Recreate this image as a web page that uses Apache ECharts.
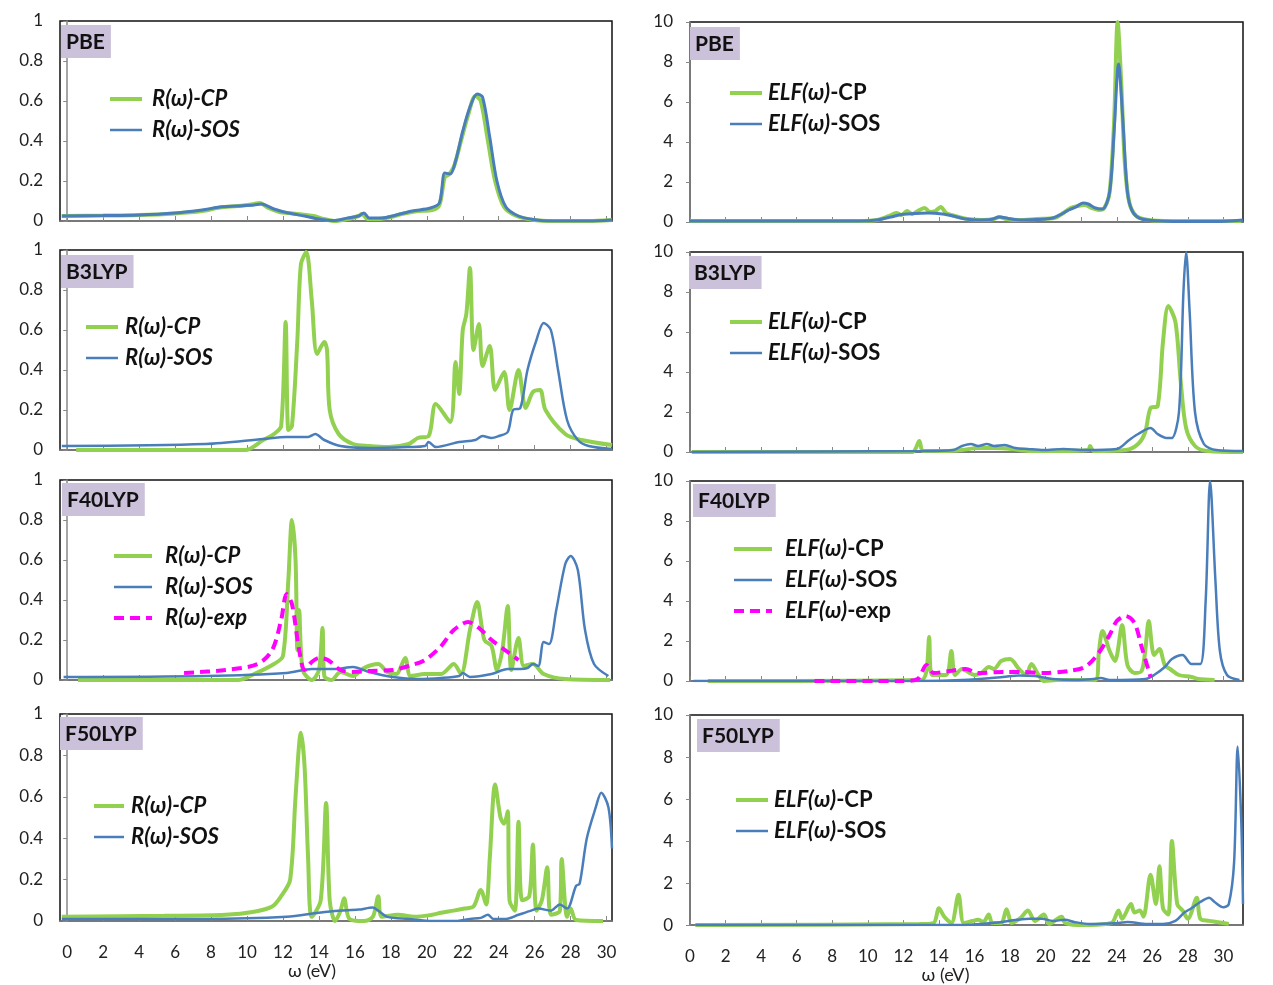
<!DOCTYPE html>
<html>
<head>
<meta charset="UTF-8">
<title>R(ω) and ELF(ω) spectra</title>
<script src="https://cdn.jsdelivr.net/npm/echarts@6/dist/echarts.min.js"></script>
<style>
  html, body { margin: 0; padding: 0; background: #fff; }
  #chart { width: 1273px; height: 985px; }
</style>
</head>
<body>
<div id="chart"></div>
<script>
// ---- data: [omega (eV), value] ----
// reflectivity R(w), left column
const pbeR_cp = [[-0.3,0.025],[2,0.027],[4,0.03],[6,0.038],[7.5,0.05],[8.5,0.068],[9.5,0.075],[10.4,0.085],[10.7,0.09],[11.2,0.065],[11.8,0.045],[12.3,0.04],[12.8,0.035],[13.3,0.03],[13.7,0.025],[14.3,0.01],[14.9,0.0],[15.6,0.01],[16.2,0.025],[16.4,0.035],[16.7,0.01],[17.3,0.01],[18,0.02],[18.6,0.035],[19.5,0.05],[20.3,0.055],[20.7,0.08],[21.0,0.22],[21.2,0.23],[21.5,0.27],[21.9,0.4],[22.3,0.53],[22.7,0.625],[23.0,0.6],[23.4,0.4],[23.8,0.2],[24.3,0.07],[25,0.025],[26,0.005],[27,0],[29,0],[30.3,0.005]];
const pbeR_sos = [[-0.3,0.025],[2,0.027],[4,0.03],[6,0.04],[7.5,0.055],[8.5,0.07],[9.5,0.075],[10.4,0.08],[10.8,0.085],[11.5,0.06],[12.3,0.04],[13.2,0.025],[14,0.01],[14.8,0.002],[15.6,0.015],[16.2,0.025],[16.5,0.04],[16.8,0.015],[17.5,0.015],[18.3,0.03],[19.2,0.05],[20.2,0.065],[20.7,0.09],[21.0,0.24],[21.3,0.235],[21.6,0.3],[22.0,0.45],[22.4,0.57],[22.8,0.635],[23.1,0.62],[23.5,0.42],[23.9,0.2],[24.4,0.07],[25.1,0.025],[26,0.006],[27,0.0],[29,0],[30.3,0.005]];

const b3R_cp = [[0.5,0],[5,0],[9.9,0],[10.9,0.05],[11.5,0.08],[11.9,0.12],[12.15,0.64],[12.3,0.1],[12.5,0.12],[12.8,0.55],[13.0,0.93],[13.3,0.99],[13.6,0.75],[13.9,0.48],[14.3,0.54],[14.45,0.5],[14.6,0.2],[15.1,0.08],[15.9,0.03],[16.8,0.02],[17.9,0.015],[19.0,0.03],[19.5,0.06],[20.1,0.07],[20.5,0.23],[21.3,0.14],[21.6,0.44],[21.8,0.28],[22.0,0.6],[22.2,0.68],[22.4,0.91],[22.6,0.5],[22.9,0.63],[23.1,0.42],[23.5,0.52],[23.8,0.3],[24.3,0.39],[24.6,0.2],[25.1,0.4],[25.5,0.21],[25.9,0.29],[26.3,0.3],[26.6,0.2],[27.7,0.08],[28.6,0.05],[30.3,0.025]];
const b3R_sos = [[-0.3,0.02],[7.7,0.03],[10.9,0.055],[12.2,0.065],[13.4,0.065],[13.8,0.08],[14.3,0.05],[15.2,0.02],[16.8,0.01],[19.0,0.015],[19.9,0.02],[20.1,0.04],[20.5,0.015],[21.8,0.04],[22.7,0.05],[23.1,0.07],[23.6,0.06],[24.0,0.07],[24.5,0.09],[24.8,0.2],[25.2,0.21],[25.6,0.4],[26.1,0.55],[26.5,0.635],[26.9,0.6],[27.3,0.4],[27.8,0.15],[28.4,0.05],[29.0,0.02],[30.3,0.005]];

const f40R_cp = [[0.6,0],[5,0],[9.5,0],[10.4,0.03],[11.5,0.08],[12.0,0.12],[12.3,0.5],[12.5,0.8],[12.7,0.6],[12.8,0.15],[12.9,0.35],[13.1,0.05],[13.6,0],[14.0,0.05],[14.2,0.26],[14.3,0.02],[14.7,0],[15.2,0.04],[15.9,0.02],[16.5,0.06],[17.3,0.08],[17.8,0.04],[18.3,0.03],[18.8,0.11],[19.1,0.02],[19.9,0.03],[20.8,0.03],[21.5,0.08],[21.9,0.03],[22.4,0.25],[22.8,0.39],[23.2,0.2],[23.6,0.17],[23.9,0.05],[24.2,0.15],[24.5,0.37],[24.7,0.05],[25.1,0.21],[25.4,0.07],[25.9,0.08],[26.5,0.03],[27.7,0.005],[30.2,0]];
const f40R_sos = [[-0.2,0.015],[7.7,0.02],[12.2,0.035],[13.6,0.055],[14.9,0.055],[15.9,0.065],[16.8,0.04],[18.1,0.015],[19.5,0.005],[20.8,0.01],[21.8,0.02],[22.0,0.035],[22.4,0.015],[23.6,0.03],[24.5,0.055],[25.2,0.055],[25.6,0.06],[25.9,0.08],[26.2,0.07],[26.5,0.19],[26.8,0.18],[27.2,0.35],[27.7,0.58],[28.0,0.62],[28.4,0.55],[28.8,0.25],[29.3,0.08],[30.1,0.02]];
const f40R_exp = [[6.5,0.035],[8.8,0.05],[10.6,0.08],[11.4,0.15],[11.9,0.3],[12.2,0.43],[12.5,0.38],[12.9,0.15],[13.2,0.05],[13.6,0.09],[14.0,0.11],[14.5,0.1],[15.2,0.05],[15.9,0.04],[16.8,0.045],[18.1,0.05],[19.0,0.07],[19.9,0.1],[20.8,0.17],[21.5,0.25],[22.3,0.29],[22.9,0.26],[23.6,0.2],[24.5,0.14],[25.1,0.1]];

const f50R_cp = [[-0.3,0.02],[5.4,0.025],[8.8,0.03],[10.4,0.045],[11.4,0.07],[11.9,0.12],[12.4,0.2],[12.7,0.6],[13.0,0.91],[13.2,0.75],[13.4,0.3],[13.6,0.02],[14.1,0.1],[14.4,0.57],[14.6,0.1],[14.9,0],[15.2,0.05],[15.4,0.11],[15.7,0.01],[16.5,0],[17.0,0.02],[17.3,0.12],[17.5,0.02],[18.4,0.03],[19.3,0.02],[20.3,0.03],[20.8,0.04],[21.5,0.05],[22.1,0.06],[22.6,0.07],[23.0,0.15],[23.3,0.08],[23.5,0.3],[23.8,0.66],[24.1,0.5],[24.3,0.47],[24.5,0.53],[24.6,0.1],[24.9,0.05],[25.1,0.48],[25.3,0.1],[25.7,0.12],[25.9,0.37],[26.1,0.05],[26.4,0.1],[26.7,0.26],[26.9,0.03],[27.4,0.05],[27.5,0.3],[27.8,0.02],[28.0,0.06],[28.3,0.005],[29.8,0]];
const f50R_sos = [[-0.3,0.01],[7.6,0.01],[12.2,0.02],[14.0,0.04],[15.1,0.05],[16.2,0.055],[17.0,0.065],[17.3,0.05],[17.8,0.02],[19.0,0.01],[20.3,0],[21.7,0],[22.4,0.01],[23.0,0.015],[23.4,0.03],[23.7,0.01],[24.4,0.01],[25.1,0.03],[25.8,0.05],[26.2,0.06],[26.9,0.05],[27.4,0.08],[27.8,0.06],[28.3,0.17],[28.5,0.18],[28.9,0.4],[29.4,0.55],[29.7,0.62],[30.1,0.55],[30.3,0.35]];

// energy loss function ELF(w), right column
const pbeE_cp = [[0,0.05],[5,0.05],[9.5,0.05],[10.5,0.1],[11.2,0.3],[11.6,0.45],[11.9,0.35],[12.2,0.55],[12.5,0.4],[12.9,0.6],[13.2,0.7],[13.5,0.5],[13.8,0.55],[14.1,0.75],[14.4,0.45],[14.7,0.35],[15.1,0.25],[15.6,0.15],[16.5,0.1],[17.1,0.15],[17.4,0.25],[17.8,0.15],[18.5,0.1],[19.5,0.15],[20.5,0.2],[21,0.45],[21.4,0.7],[21.8,0.8],[22.2,0.85],[22.6,0.7],[23.0,0.6],[23.3,0.7],[23.6,1.5],[23.85,5],[24.05,10],[24.25,7],[24.45,3],[24.7,1],[25.1,0.3],[25.8,0.1],[27,0.05],[31,0.05]];
const pbeE_sos = [[0,0.05],[5,0.05],[9.5,0.05],[10.5,0.1],[11.3,0.25],[11.9,0.38],[12.6,0.42],[13.4,0.45],[14.2,0.4],[14.8,0.3],[15.5,0.15],[16.3,0.1],[16.9,0.12],[17.4,0.25],[17.9,0.18],[18.6,0.1],[19.5,0.12],[20.4,0.2],[20.9,0.4],[21.3,0.6],[21.7,0.75],[22.1,0.95],[22.4,0.9],[22.8,0.7],[23.2,0.65],[23.6,1.5],[23.85,4.5],[24.1,7.9],[24.35,5],[24.6,1.5],[24.9,0.5],[25.4,0.15],[26.5,0.05],[28,0.02],[29.5,0.02],[31.1,0.1]];

const b3E_cp = [[0.1,0],[12.5,0],[12.9,0.55],[13.1,0.05],[14.4,0.05],[15.3,0.1],[16.2,0.2],[17.1,0.2],[18.1,0.15],[19.0,0.05],[20.8,0.05],[22.4,0.1],[22.5,0.3],[22.7,0.05],[24.5,0.1],[25.2,0.4],[25.6,1.0],[25.9,2.2],[26.3,2.3],[26.6,5.5],[26.9,7.3],[27.3,6.5],[27.6,3.5],[27.9,1.2],[28.4,0.3],[29.1,0.05],[31.1,0]];
const b3E_sos = [[0.1,0],[13.0,0.05],[14.8,0.1],[15.3,0.3],[15.8,0.4],[16.2,0.3],[16.7,0.4],[17.1,0.3],[17.7,0.35],[18.3,0.2],[19.0,0.15],[19.9,0.1],[21.0,0.15],[22.2,0.1],[24.0,0.15],[24.7,0.6],[25.2,0.9],[25.9,1.2],[26.3,0.9],[26.8,0.7],[27.1,0.7],[27.5,2],[27.75,8],[27.9,10],[28.1,7],[28.4,2],[28.9,0.4],[29.6,0.1],[31.1,0.05]];

const f40E_cp = [[1.0,0],[13.0,0.05],[13.3,0.5],[13.45,2.2],[13.6,0.3],[14.4,0.3],[14.7,1.5],[14.9,0.3],[15.3,0.6],[16.0,0.3],[16.4,0.4],[16.8,0.7],[17.1,0.6],[17.5,1.0],[18.0,1.1],[18.5,0.6],[18.9,0.3],[19.2,0.85],[19.6,0.3],[19.9,0],[20.6,0.05],[21.7,0.05],[22.8,0.05],[23.0,1.5],[23.2,2.5],[23.6,1.5],[23.9,1.0],[24.3,2.8],[24.6,0.8],[25.0,0.4],[25.4,0.5],[25.6,1.5],[25.8,3.0],[26.1,1.3],[26.4,1.6],[26.7,0.8],[27.0,0.6],[27.5,0.3],[28.2,0.2],[28.6,0.1],[29.5,0.05]];
const f40E_sos = [[0.2,0],[13.0,0],[15.3,0.05],[17.6,0.2],[18.5,0.28],[19.4,0.25],[20.4,0.1],[21.7,0.05],[22.7,0.1],[23.1,0.15],[23.6,0.05],[25.6,0.1],[26.1,0.3],[26.7,0.7],[27.1,1.1],[27.7,1.3],[28.2,0.85],[28.7,0.85],[29.0,4],[29.25,10],[29.55,5],[29.8,1.5],[30.2,0.3],[30.9,0.05]];
const f40E_exp = [[7.0,0],[11.9,0],[12.8,0.1],[13.3,0.8],[13.7,0.4],[14.6,0.5],[15.5,0.6],[16.2,0.4],[17.6,0.45],[18.7,0.45],[19.9,0.4],[21.3,0.5],[22.2,0.7],[22.9,1.3],[23.6,2.3],[24.0,3.0],[24.5,3.25],[25.0,2.9],[25.4,1.7],[25.8,0.5],[25.9,0.2]];

const f50E_cp = [[0.3,0],[12.9,0.05],[13.7,0.1],[14.0,0.8],[14.3,0.4],[14.7,0.1],[15.1,1.45],[15.4,0.1],[15.9,0.2],[16.2,0.25],[16.5,0.15],[16.8,0.5],[17.0,0.1],[17.5,0.1],[17.8,0.75],[18.1,0.1],[18.6,0.35],[19.0,0.7],[19.4,0.2],[19.9,0.5],[20.2,0.05],[20.9,0.4],[21.1,0.1],[22.0,0],[23.7,0.1],[24.1,0.7],[24.3,0.3],[24.8,1.0],[25.0,0.6],[25.3,0.7],[25.5,0.4],[25.9,2.4],[26.2,1.0],[26.4,2.8],[26.6,0.8],[26.9,0.5],[27.1,4.0],[27.4,1.0],[27.7,0.7],[28.0,0.3],[28.5,1.3],[28.7,0.3],[29.2,0.2],[29.6,0.15],[30.3,0.05]];
const f50E_sos = [[0.3,0],[15.2,0],[17.0,0.1],[18.4,0.25],[19.1,0.3],[19.8,0.3],[20.4,0.2],[21.1,0.25],[21.6,0.15],[22.5,0.05],[24.1,0.1],[24.6,0.15],[25.7,0.05],[26.6,0.05],[27.3,0.2],[27.8,0.6],[28.2,0.8],[28.7,1.1],[29.2,1.3],[29.5,1.1],[30.0,0.85],[30.3,1.0],[30.6,3],[30.8,8.5],[31.0,5],[31.1,1.0]];

const panelNames = ['PBE', 'B3LYP', 'F40LYP', 'F50LYP'];
const xTicks = [0, 2, 4, 6, 8, 10, 12, 14, 16, 18, 20, 22, 24, 26, 28, 30];

const FONT = 'Lato, "Open Sans", sans-serif';
const GREEN = '#92d050', BLUE = '#4a7ebb', MAGENTA = '#ff00ff';
const STYLE = {
  cp:  { color: GREEN, width: 4, type: 'solid' },
  sos: { color: BLUE, width: 2.5, type: 'solid' },
  exp: { color: MAGENTA, width: 4, type: [10, 6] }
};

// plot boxes (px)
const boxes = [
  { left: 60, top: 21, width: 552, height: 200 },
  { left: 60, top: 250, width: 552, height: 200 },
  { left: 60, top: 480, width: 552, height: 200 },
  { left: 60, top: 714, width: 552, height: 207 },
  { left: 690, top: 22, width: 553, height: 200 },
  { left: 690, top: 252, width: 553, height: 200 },
  { left: 690, top: 481, width: 553, height: 200 },
  { left: 690, top: 715, width: 553, height: 211 }
];

const chart = echarts.init(document.getElementById('chart'));

const grid = boxes.map(b => Object.assign({
  show: true, borderColor: '#111', borderWidth: 1.5, containLabel: false
}, b));

const xAxis = boxes.map((b, i) => {
  const right = i >= 4;
  const bottom = i === 3 || i === 7;
  return {
    gridIndex: i, type: 'value',
    min: right ? 0 : -0.4,
    max: right ? 31.1 : 30.3,
    name: bottom ? 'ω (eV)' : '',
    nameLocation: 'middle', nameGap: 40,
    nameTextStyle: { fontFamily: FONT, fontSize: 18, color: '#222', padding: [0, right ? 42 : 48, 0, 0] },
    axisLine: { lineStyle: { color: '#888', width: 1.5 } },
    axisTick: { show: true, inside: true, length: 5, customValues: xTicks, lineStyle: { color: '#888' } },
    axisLabel: { show: bottom, customValues: xTicks, margin: 23, fontFamily: FONT, fontSize: 17, color: '#222' },
    splitLine: { show: false }
  };
});

const yAxis = boxes.map((b, i) => {
  const right = i >= 4;
  return {
    gridIndex: i, type: 'value', min: 0,
    max: right ? 10 : 1, interval: right ? 2 : 0.2,
    axisLine: { show: true, lineStyle: { color: '#888', width: 1.5 } },
    axisTick: { show: true, length: 4, lineStyle: { color: '#888' } },
    axisLabel: { margin: 17, fontFamily: FONT, fontSize: 17, color: '#222' },
    splitLine: { show: false }
  };
});

function line(name, data, i, kind) {
  const st = Object.assign({}, STYLE[kind]);
  if (kind === 'sos' && i % 4 === 0) st.width = 3;
  return {
    name: name, type: 'line', data: data,
    xAxisIndex: i, yAxisIndex: i,
    symbol: 'none', smooth: 0.3, clip: true,
    color: st.color, lineStyle: st
  };
}

const RCP = 'R(ω)-CP', RSOS = 'R(ω)-SOS', REXP = 'R(ω)-exp';
const ECP = 'ELF(ω)-CP', ESOS = 'ELF(ω)-SOS', EEXP = 'ELF(ω)-exp';
const kindOf = n => n.endsWith('CP') ? 'cp' : (n.endsWith('SOS') ? 'sos' : 'exp');

const series = [
  line(RCP, pbeR_cp, 0, 'cp'), line(RSOS, pbeR_sos, 0, 'sos'),
  line(RCP, b3R_cp, 1, 'cp'), line(RSOS, b3R_sos, 1, 'sos'),
  line(RCP, f40R_cp, 2, 'cp'), line(RSOS, f40R_sos, 2, 'sos'), line(REXP, f40R_exp, 2, 'exp'),
  line(RCP, f50R_cp, 3, 'cp'), line(RSOS, f50R_sos, 3, 'sos'),
  line(ECP, pbeE_cp, 4, 'cp'), line(ESOS, pbeE_sos, 4, 'sos'),
  line(ECP, b3E_cp, 5, 'cp'), line(ESOS, b3E_sos, 5, 'sos'),
  line(ECP, f40E_cp, 6, 'cp'), line(ESOS, f40E_sos, 6, 'sos'), line(EEXP, f40E_exp, 6, 'exp'),
  line(ECP, f50E_cp, 7, 'cp'), line(ESOS, f50E_sos, 7, 'sos')
];

// panel tags
const tagPos = [
  [61, 25], [61, 255], [62, 483], [60, 717],
  [690, 27], [689, 256], [693, 484], [697, 719]
];
const title = tagPos.map((p, i) => ({
  text: panelNames[i % 4],
  left: p[0], top: p[1],
  backgroundColor: '#ccc1da',
  padding: [5, 6, 4, 5],
  textStyle: { fontFamily: FONT, fontSize: 21, fontWeight: 'bold', color: '#111', lineHeight: 24 }
}));

// legends
const legendCfg = [
  { left: 108, top: 88, w: 32, gap: 10, names: [RCP, RSOS] },
  { left: 84, top: 316, w: 32, gap: 7, names: [RCP, RSOS] },
  { left: 112, top: 545, w: 38, gap: 13, names: [RCP, RSOS, REXP] },
  { left: 92, top: 795, w: 30, gap: 7, names: [RCP, RSOS] },
  { left: 728, top: 82, w: 32, gap: 6, names: [ECP, ESOS] },
  { left: 728, top: 311, w: 32, gap: 6, names: [ECP, ESOS] },
  { left: 732, top: 538, w: 38, gap: 13, names: [ECP, ESOS, EEXP] },
  { left: 734, top: 789, w: 32, gap: 6, names: [ECP, ESOS] }
];
const legend = legendCfg.map(c => ({
  left: c.left, top: c.top, orient: 'vertical',
  padding: 0, itemGap: 9, itemWidth: c.w, itemHeight: 14,
  selectedMode: false,
  itemStyle: { opacity: 0 },
  data: c.names.map(n => ({ name: n, lineStyle: Object.assign({}, STYLE[kindOf(n)]) })),
  formatter: n => {
    const k = n.indexOf(')') + 1;
    if (n.charAt(0) === 'E') return '{i|' + n.slice(0, k) + '}{n|' + n.slice(k) + '}';
    return '{i|' + n + '}';
  },
  textStyle: {
    padding: [0, 0, 0, c.gap - 5],
    lineHeight: 22,
    rich: {
      i: { fontFamily: FONT, fontSize: 22, fontWeight: 'bold', fontStyle: 'italic', color: '#111', lineHeight: 22 },
      n: { fontFamily: FONT, fontSize: 22, fontWeight: 'bold', color: '#111', lineHeight: 22 }
    }
  }
}));

chart.setOption({
  animation: false,
  backgroundColor: '#fff',
  title: title,
  legend: legend,
  grid: grid,
  xAxis: xAxis,
  yAxis: yAxis,
  series: series
});
</script>
</body>
</html>
